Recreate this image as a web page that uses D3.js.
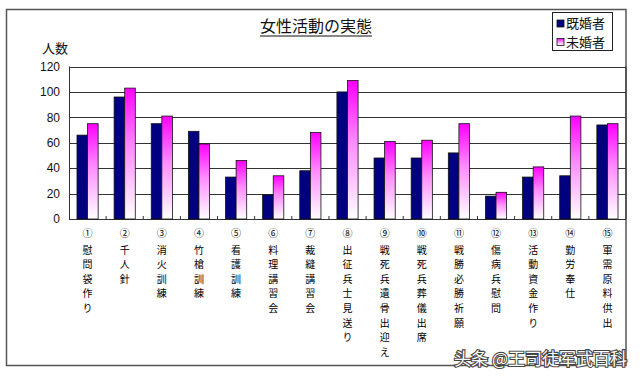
<!DOCTYPE html>
<html><head><meta charset="utf-8">
<script src="https://cdn.jsdelivr.net/npm/d3@7"></script>
<style>
body{margin:0;background:#fff;}
svg{display:block;}
</style></head>
<body>
<svg id="chart" width="640" height="381"></svg>
<script>
const title = "女性活動の実態";
const yAxisTitle = "人数";
const seriesNames = ["既婚者", "未婚者"];
const categoryNumbers = ["①","②","③","④","⑤","⑥","⑦","⑧","⑨","⑩","⑪","⑫","⑬","⑭","⑮"];
const categoryNames = ["慰問袋作り","千人針","消火訓練","竹槍訓練","看護訓練","料理講習会","裁縫講習会","出征兵士見送り","戦死兵遺骨出迎え","戦死兵葬儀出席","戦勝必勝祈願","傷病兵慰問","活動資金作り","勤労奉仕","軍需原料供出"];
const married   = [66, 96, 75, 69, 33, 19, 38, 100, 48, 48, 52, 18, 33, 34, 74];
const unmarried = [75, 103, 81, 59, 46, 34, 68, 109, 61, 62, 75, 21, 41, 81, 75];
const yTicks = [0, 20, 40, 60, 80, 100, 120];
const watermark = "头条 @王司徒军武百科";

const svg = d3.select("#chart");
const plot = {left: 69, right: 626, top: 66.5, bottom: 219};
const font = "'Noto Sans CJK JP', 'Noto Sans', sans-serif";

const defs = svg.append("defs");
const grad = defs.append("linearGradient").attr("id","pinkGrad")
  .attr("x1",0).attr("y1",0).attr("x2",0).attr("y2",1);
grad.append("stop").attr("offset","0%").attr("stop-color","#ff00ff");
grad.append("stop").attr("offset","45%").attr("stop-color","#ff8cff");
grad.append("stop").attr("offset","100%").attr("stop-color","#ffffff");

// outer frame
svg.append("rect").attr("x",6.5).attr("y",9.5).attr("width",619.5).attr("height",356)
  .attr("fill","#fff").attr("stroke","#555").attr("stroke-width",1.5);

const x0 = d3.scaleBand().domain(d3.range(categoryNames.length))
  .range([plot.left, plot.right]).paddingInner(0.43).paddingOuter(0.215);
const x1 = d3.scaleBand().domain([0,1]).range([0, x0.bandwidth()]);
const y = d3.scaleLinear().domain([0,120]).range([plot.bottom, plot.top]);

// gridlines
svg.append("g").selectAll("line").data(yTicks).join("line")
  .attr("x1",plot.left).attr("x2",plot.right)
  .attr("y1",d=>Math.round(y(d))+0.5).attr("y2",d=>Math.round(y(d))+0.5)
  .attr("stroke","#333").attr("stroke-width",1.1);

svg.append("line").attr("x1",plot.left+0.5).attr("x2",plot.left+0.5)
  .attr("y1",y(120)).attr("y2",y(0)).attr("stroke","#333");
svg.append("line").attr("x1",plot.right).attr("x2",plot.right)
  .attr("y1",y(120)).attr("y2",y(0)).attr("stroke","#333");

// y tick labels
svg.append("g").selectAll("text").data(yTicks).join("text")
  .attr("x",60).attr("y",d=>y(d)).attr("dy","0.35em")
  .attr("text-anchor","end").attr("font-family","'Liberation Sans', Arial, sans-serif")
  .attr("font-size",12).attr("fill","#111").text(d=>d);

svg.append("text").attr("x",42).attr("y",53).attr("font-family",font)
  .attr("font-size",13).attr("fill","#111").text(yAxisTitle);

// x ticks at category boundaries
const step = x0.step();
svg.append("g").selectAll("line").data(d3.range(1,categoryNames.length)).join("line")
  .attr("x1",d=>plot.left + d*step).attr("x2",d=>plot.left + d*step)
  .attr("y1",y(0)-3).attr("y2",y(0)).attr("stroke","#333");

// bars
const groups = svg.append("g").selectAll("g").data(categoryNames.map((c,i)=>i)).join("g")
  .attr("transform",i=>`translate(${x0(i)},0)`);
groups.append("rect")
  .attr("x",x1(0)).attr("width",x1.bandwidth())
  .attr("y",i=>y(married[i])).attr("height",i=>y(0)-y(married[i]))
  .attr("fill","#000080").attr("stroke","#111").attr("stroke-width",0.8);
groups.append("rect")
  .attr("x",x1(1)).attr("width",x1.bandwidth())
  .attr("y",i=>y(unmarried[i])).attr("height",i=>y(0)-y(unmarried[i]))
  .attr("fill","url(#pinkGrad)").attr("stroke","#111").attr("stroke-width",0.8);

// x labels, characters stacked vertically
const lab = svg.append("g").selectAll("g").data(categoryNames.map((c,i)=>i)).join("g")
  .attr("transform",i=>`translate(${x0(i)+x0.bandwidth()/2},0)`);
lab.append("text").attr("x",0).attr("y",237).attr("text-anchor","middle")
  .attr("font-family",font).attr("font-size",10).attr("fill","#000")
  .text(i=>categoryNumbers[i]);
lab.each(function(i){
  const chars = Array.from(categoryNames[i]);
  d3.select(this).selectAll("text.ch").data(chars).join("text").attr("class","ch")
    .attr("x",0).attr("y",(d,k)=>253.5 + k*14.6).attr("text-anchor","middle")
    .attr("font-family",font).attr("font-size",10).attr("fill","#000").text(d=>d);
});

// title
const t = svg.append("text").attr("x",316).attr("y",32).attr("text-anchor","middle")
  .attr("font-family",font).attr("font-size",16).attr("fill","#111").text(title);
const tb = t.node().getBBox();
svg.append("line").attr("x1",tb.x).attr("x2",tb.x+tb.width)
  .attr("y1",36).attr("y2",36).attr("stroke","#111").attr("stroke-width",1.2);

// legend
const lg = svg.append("g");
lg.append("rect").attr("x",552.5).attr("y",12.5).attr("width",60).attr("height",38)
  .attr("fill","#fff").attr("stroke","#222").attr("stroke-width",1);
const legFills = ["#000080","url(#pinkGrad)"];
seriesNames.forEach((s,k)=>{
  const cy = 23.5 + k*18.5;
  lg.append("rect").attr("x",557).attr("y",cy-3.5).attr("width",7).attr("height",7)
    .attr("fill",legFills[k]).attr("stroke","#111").attr("stroke-width",0.8);
  lg.append("text").attr("x",566).attr("y",cy).attr("dy","0.36em")
    .attr("font-family",font).attr("font-size",13).attr("fill","#111").text(s);
});

// watermark
svg.append("text").attr("x",627).attr("y",365).attr("text-anchor","end")
  .attr("font-family",font).attr("font-size",17).attr("fill","#fff")
  .attr("stroke","#444").attr("stroke-width",2.2).attr("paint-order","stroke")
  .text(watermark);
</script>
</body></html>
